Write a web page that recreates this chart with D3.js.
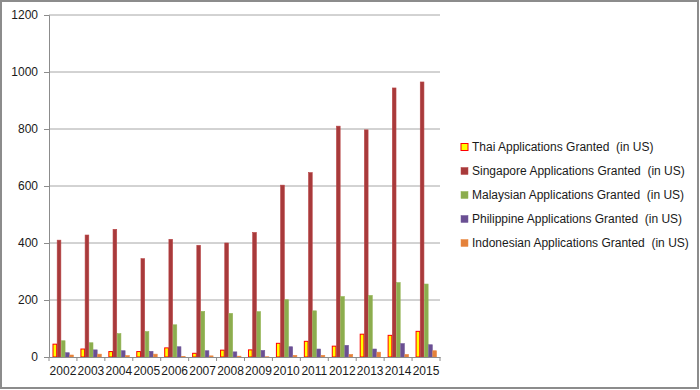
<!DOCTYPE html>
<html>
  <head>
    <meta charset="utf-8" />
    <title> Applications Granted </title>
    <script src="https://d3js.org/d3.v7.min.js"></script>
    <style>
      body { margin: 0; background: white; }
      text { font-family: "Liberation Sans", Arial, sans-serif; fill: #1a1a1a; }
    </style>
  </head>

  <body>
    <svg id="chart" width=700 height=390></svg>

    <script>

    var years = ["2002","2003","2004","2005","2006","2007","2008","2009","2010","2011","2012","2013","2014","2015"];

    var thai      = [45, 28, 19, 19, 32, 13, 24, 25, 48, 55, 38, 80, 76, 90];
    var singapore = [410, 428, 448, 345, 413, 392, 400, 437, 603, 647, 810, 797, 944, 965];
    var malaysian = [57, 50, 82, 89, 113, 160, 153, 159, 201, 162, 212, 216, 261, 256];
    var philippine = [15, 25, 22, 20, 36, 22, 18, 23, 36, 28, 41, 28, 47, 43];
    var indonesian = [7, 10, 5, 10, 2, 4, 3, 1, 6, 6, 9, 17, 9, 22];

    var seriesNames = [
      "Thai Applications Granted  (in US)",
      "Singapore Applications Granted  (in US)",
      "Malaysian Applications Granted  (in US)",
      "Philippine Applications Granted  (in US)",
      "Indonesian Applications Granted  (in US)"
    ];
    var yTicks = [0, 200, 400, 600, 800, 1000, 1200];

    var allSeries = [thai, singapore, malaysian, philippine, indonesian];
    var fills = ["#ffff00", "#a83a3b", "#8cad4e", "#6a4f93", "#e4813a"];
    var strokes = ["#ff0000", "#b84445", "#93b453", "#725a9a", "#ea8a44"];

    var svg = d3.select("#chart");

    // outer frame
    svg.append("rect")
      .attr("x", 1).attr("y", 1)
      .attr("width", 697).attr("height", 387)
      .attr("fill", "white")
      .attr("stroke", "#8c8c8c")
      .attr("stroke-width", 2);

    var plotLeft = 49, plotRight = 440, plotTop = 15, plotBottom = 357;

    var x = d3.scaleBand()
      .domain(years)
      .range([plotLeft, plotRight])
      .paddingInner(0.25)
      .paddingOuter(0.125);

    var xSub = d3.scaleBand()
      .domain(d3.range(allSeries.length))
      .range([0, x.bandwidth()]);

    var y = d3.scaleLinear()
      .domain([0, 1200])
      .range([plotBottom, plotTop]);

    // gridlines
    svg.append("g").selectAll("line")
      .data(yTicks.filter(function(t) { return t > 0; }))
      .enter().append("line")
      .attr("x1", plotLeft).attr("x2", plotRight)
      .attr("y1", function(d) { return y(d); })
      .attr("y2", function(d) { return y(d); })
      .attr("stroke", "#a6a6a6")
      .attr("stroke-width", 1);

    // bars
    allSeries.forEach(function(values, i) {
      svg.append("g").selectAll("rect")
        .data(values)
        .enter().append("rect")
        .attr("x", function(d, j) { return x(years[j]) + xSub(i) + 0.5; })
        .attr("y", function(d) { return y(d); })
        .attr("width", xSub.bandwidth() - 0.5)
        .attr("height", function(d) { return plotBottom - y(d); })
        .attr("fill", fills[i])
        .attr("stroke", strokes[i])
        .attr("stroke-width", i == 0 ? 1 : 0.6);
    });

    // y axis
    var yAxis = svg.append("g")
      .attr("transform", "translate(" + plotLeft + ",0)")
      .call(d3.axisLeft(y).tickValues(yTicks).tickFormat(d3.format("d")).tickSize(5).tickPadding(6));
    yAxis.select(".domain").attr("stroke", "#8c8c8c");
    yAxis.selectAll(".tick line").attr("stroke", "#8c8c8c");
    yAxis.selectAll("text").style("font-size", "12px").attr("fill", "#1a1a1a");

    // x axis
    var step = x.step();
    var xAxis = svg.append("g")
      .attr("transform", "translate(0," + plotBottom + ")")
      .call(d3.axisBottom(x).tickSize(0).tickPadding(9));
    xAxis.select(".domain").attr("stroke", "#8c8c8c");
    xAxis.selectAll("text").style("font-size", "12px").attr("fill", "#1a1a1a");
    svg.append("g").selectAll("line")
      .data(d3.range(years.length + 1))
      .enter().append("line")
      .attr("x1", function(d) { return plotLeft + d * step; })
      .attr("x2", function(d) { return plotLeft + d * step; })
      .attr("y1", plotBottom).attr("y2", plotBottom + 4)
      .attr("stroke", "#8c8c8c");

    // legend
    var legend = svg.append("g").selectAll("g")
      .data(seriesNames)
      .enter().append("g")
      .attr("transform", function(d, i) { return "translate(461," + (147 + i * 24) + ")"; });

    legend.append("rect")
      .attr("x", 0).attr("y", -3.5)
      .attr("width", 7).attr("height", 7)
      .attr("fill", function(d, i) { return fills[i]; })
      .attr("stroke", function(d, i) { return strokes[i]; })
      .attr("stroke-width", function(d, i) { return i == 0 ? 1 : 0.5; });

    legend.append("text")
      .attr("x", 11).attr("y", 0)
      .attr("dy", "0.35em")
      .style("font-size", "12px")
      .style("white-space", "pre")
      .text(function(d) { return d; });

    </script>
  </body>
</html>
